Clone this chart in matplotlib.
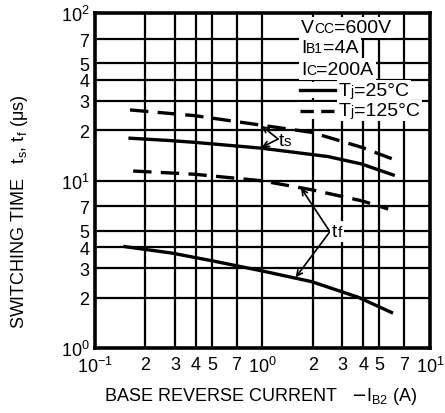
import numpy as np
import matplotlib.pyplot as plt
from matplotlib.offsetbox import TextArea, HPacker, AnnotationBbox

plt.rcParams['font.family'] = ['Liberation Sans', 'DejaVu Sans']
fnt = 13

# ts curves (storage time)
ib_ts25 = [0.162, 0.287, 0.395, 0.989, 2.47, 3.91, 6.04]
ts25 = [17.9, 17.3, 16.9, 15.6, 13.9, 12.55, 10.8]
ib_ts125 = [0.162, 0.395, 0.989, 1.966, 3.91, 6.04]
ts125 = [26.4, 24.4, 21.4, 19.4, 15.8, 13.4]

# tf curves (fall time)
ib_tf25 = [0.151, 0.287, 0.498, 0.989, 1.966, 3.73, 5.90]
tf25 = [4.03, 3.69, 3.32, 2.89, 2.49, 2.01, 1.63]
ib_tf125 = [0.169, 0.395, 0.989, 1.966, 3.91, 5.64]
tf125 = [11.4, 10.9, 9.97, 8.81, 7.57, 6.76]

xtick_vals = [0.1, 0.2, 0.3, 0.4, 0.5, 0.7, 1, 2, 3, 4, 5, 7, 10]
xtick_lbls = [r'$\mathregular{10^{-1}}$', '2', '3', '4', '5', '7', r'$\mathregular{10^{0}}$',
              '2', '3', '4', '5', '7', r'$\mathregular{10^{1}}$']
ytick_vals = [1, 2, 3, 4, 5, 7, 10, 20, 30, 40, 50, 70, 100]
ytick_lbls = [r'$\mathregular{10^{0}}$', '2', '3', '4', '5', '7', r'$\mathregular{10^{1}}$',
              '2', '3', '4', '5', '7', r'$\mathregular{10^{2}}$']


def pieces(ax, x, y, parts, coords='axes fraction', white=True):
    # text made of pieces with different sizes sitting on one baseline
    kids = [TextArea(s, textprops=dict(fontsize=fs)) for s, fs in parts]
    box = HPacker(children=kids, align='baseline', pad=0, sep=0)
    ab = AnnotationBbox(box, (x, y), xycoords=coords, box_alignment=(0, 0.5),
                        frameon=white, pad=0.15,
                        bboxprops=dict(facecolor='white', edgecolor='none'), zorder=5)
    ax.add_artist(ab)


fig = plt.figure(figsize=(4.45, 4.14), dpi=100)
ax = fig.add_axes([0.2135, 0.157, 0.7525, 0.809])
ax.set_xscale('log')
ax.set_yscale('log')
ax.set_xlim(0.1, 10)
ax.set_ylim(1, 100)

for v in xtick_vals[1:-1]:
    ax.axvline(v, color='black', lw=1.6, zorder=1)
for v in ytick_vals[1:-1]:
    ax.axhline(v, color='black', lw=1.6, zorder=1)

ax.set_xticks(xtick_vals)
ax.set_xticklabels(xtick_lbls, fontsize=fnt)
ax.set_yticks(ytick_vals)
ax.set_yticklabels(ytick_lbls, fontsize=fnt)
ax.minorticks_off()
ax.tick_params(axis='x', length=0, pad=6)
ax.tick_params(axis='y', length=0, pad=4)
for s in ax.spines.values():
    s.set_linewidth(2.6)

dash = (0, (5.5, 2.8))
ax.plot(ib_ts25, ts25, color='black', lw=2.4, zorder=3)
ax.plot(ib_tf25, tf25, color='black', lw=2.4, zorder=3)
ax.plot(ib_ts125, ts125, color='black', lw=2.4, ls=dash, zorder=3)
ax.plot(ib_tf125, tf125, color='black', lw=2.4, ls=dash, zorder=3)

arr = dict(arrowstyle='->', color='black', lw=1.2, shrinkA=0, shrinkB=0)
ax.annotate('', xy=(0.99, 21.2), xytext=(1.24, 17.7), arrowprops=arr, zorder=4)
ax.annotate('', xy=(0.99, 15.8), xytext=(1.24, 17.7), arrowprops=arr, zorder=4)
pieces(ax, 1.25, 17.4, [('t', 14), ('s', 11)], coords='data', white=False)
ax.annotate('', xy=(1.70, 9.02), xytext=(2.53, 4.95), arrowprops=arr, zorder=4)
ax.annotate('', xy=(1.58, 2.64), xytext=(2.53, 4.95), arrowprops=arr, zorder=4)
pieces(ax, 2.6, 4.95, [('t', 14), ('f', 11)], coords='data')

# condition legend
lf, sf = 14, 10
lx = 0.615
pieces(ax, lx, 0.958, [('V', lf), ('CC', sf), ('=600V', lf)])
pieces(ax, lx, 0.896, [('I', lf), ('B1', sf), ('=4A', lf)])
pieces(ax, lx, 0.833, [('I', lf), ('C', sf), ('=200A', lf)])
pieces(ax, 0.728, 0.770, [('T', lf), ('j', sf), ('=25°C', lf)])
pieces(ax, 0.728, 0.708, [('T', lf), ('j', sf), ('=125°C', lf)])
ax.add_patch(plt.Rectangle((0.605, 0.745), 0.125, 0.05, transform=ax.transAxes,
                           facecolor='white', edgecolor='none', zorder=5))
ax.add_patch(plt.Rectangle((0.605, 0.685), 0.125, 0.05, transform=ax.transAxes,
                           facecolor='white', edgecolor='none', zorder=5))
ax.plot([0.612, 0.716], [0.770, 0.770], transform=ax.transAxes, color='black', lw=2.4, zorder=6)
ax.plot([0.612, 0.716], [0.708, 0.708], transform=ax.transAxes, color='black', lw=2.4,
        ls=(0, (4, 2.2)), zorder=6)

ax.set_xlabel(r'BASE REVERSE CURRENT   $-$I$_{\mathregular{B2}}$ (A)', fontsize=fnt, va='center')
ax.set_ylabel(r'SWITCHING TIME   t$_{\mathregular{s}}$, t$_{\mathregular{f}}$ ($\mathregular{\mu}$s)',
              fontsize=fnt, va='center')
ax.xaxis.set_label_coords(0.4955, -0.143)
ax.yaxis.set_label_coords(-0.224, 0.409)

fig.savefig('out.png', dpi=100, facecolor='white')
